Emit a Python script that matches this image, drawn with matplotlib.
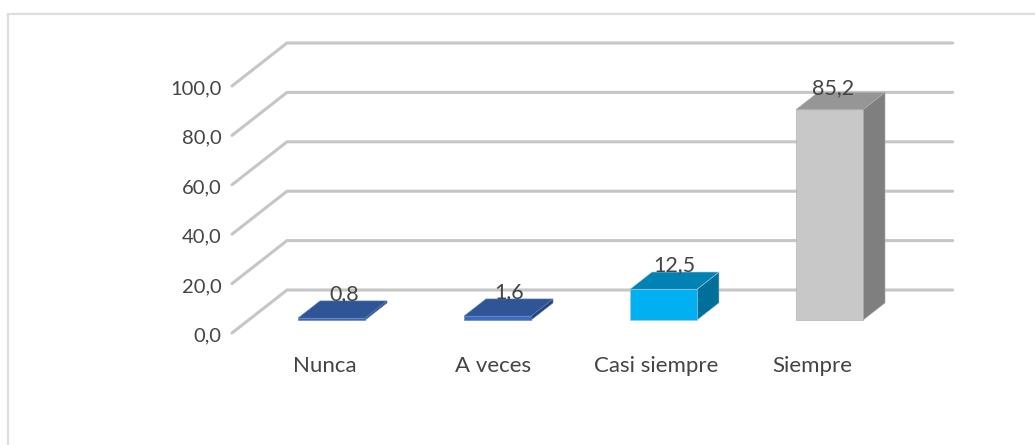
import matplotlib
matplotlib.use('Agg')
import matplotlib.pyplot as plt
from matplotlib.patches import Polygon

# Fake 3D column chart, oblique projection by hand.

categories = ['Nunca', 'A veces', 'Casi siempre', 'Siempre']
values = [0.8, 1.6, 12.5, 85.2]
value_labels = ['0,8', '1,6', '12,5', '85,2']
ticks = [0, 20, 40, 60, 80, 100]
tick_labels = ['0,0', '20,0', '40,0', '60,0', '80,0', '100,0']

front_colors = ['#3A67B0', '#3A6BBD', '#00B0F0', '#C8C8C8']
top_colors = ['#2F5597', '#2F5597', '#0083B4', '#969696']
side_colors = ['#24437A', '#24437A', '#00709A', '#7F7F7F']
edge_colors = ['#5B7FB8', '#5B7FB8', '#A8C8D8', '#A8A8A8']

# label nudges in points, the original labels are not centred on their columns
category_dx = [7.2, 8.7, 6.5, -0.5]
value_dx = [-6.6, -7.3, -8, -13]
value_dy = [5, 5, 5, 3]

GRID = '#C6C6C6'
TEXT = '#444444'
PX_PER_CAT = 166.0
PX_PER_UNIT = 2.47
DEPTH_X = 55 / PX_PER_CAT
DEPTH_Y = 43 / PX_PER_UNIT
BAR_WIDTH = 67 / PX_PER_CAT
D_FRONT = 0.3
D_BACK = 0.7

plt.rcParams['font.family'] = ['Lato', 'DejaVu Sans']

fig = plt.figure(figsize=(10.35, 4.45), dpi=100)
ax = fig.add_axes([0, 0, 1, 1])
# category 0 sits at 315 px on the floor's front edge, value 0 at 333 px from top
ax.set_xlim(-315 / PX_PER_CAT, (1035 - 315) / PX_PER_CAT)
ax.set_ylim(-(445 - 333) / PX_PER_UNIT, 333 / PX_PER_UNIT)
ax.axis('off')


def project(c, v, d):
    return (c + d * DEPTH_X, v + d * DEPTH_Y)


# outer frame, only top and left are inside the picture
frame_x = [8 / 1035, 8 / 1035, 1]
frame_y = [0, 1 - 14 / 445, 1 - 14 / 445]
ax.plot(frame_x, frame_y, transform=ax.transAxes, color='#DEDEDE', lw=1.6,
        solid_joinstyle='miter')

# gridlines: wall then floor side
for t, label in zip(ticks, tick_labels):
    p0 = project(-0.5, t, 0)
    p1 = project(-0.5, t, 1)
    p2 = project(3.51, t, 1)
    ax.plot([p0[0], p1[0], p2[0]], [p0[1], p1[1], p2[1]], color=GRID, lw=2.2,
            solid_capstyle='round', solid_joinstyle='miter', zorder=1)
    ax.annotate(label, (p0[0], t), xytext=(-7.7, -2), textcoords='offset points',
                ha='right', va='center', fontsize=14.5, color=TEXT)

# bars
for i, v in enumerate(values):
    x0 = i - BAR_WIDTH / 2
    x1 = i + BAR_WIDTH / 2
    front = [project(x0, 0, D_FRONT), project(x1, 0, D_FRONT),
             project(x1, v, D_FRONT), project(x0, v, D_FRONT)]
    side = [project(x1, 0, D_FRONT), project(x1, 0, D_BACK),
            project(x1, v, D_BACK), project(x1, v, D_FRONT)]
    top = [project(x0, v, D_FRONT), project(x1, v, D_FRONT),
           project(x1, v, D_BACK), project(x0, v, D_BACK)]
    ax.add_patch(Polygon(side, fc=side_colors[i], ec=edge_colors[i], lw=0.4, zorder=3))
    ax.add_patch(Polygon(top, fc=top_colors[i], ec=edge_colors[i], lw=0.4, zorder=3))
    ax.add_patch(Polygon(front, fc=front_colors[i], ec=edge_colors[i], lw=0.4, zorder=3))
    lx, ly = project(i, v, D_BACK)
    ax.annotate(value_labels[i], (lx, ly), xytext=(value_dx[i], value_dy[i]),
                textcoords='offset points', ha='center', va='center',
                fontsize=15.5, color=TEXT, zorder=4)

# category labels
for i, name in enumerate(categories):
    x, _ = project(i, 0, 0)
    ax.annotate(name, (x, 0), xytext=(category_dx[i], -23.5), textcoords='offset points',
                ha='center', va='center', fontsize=16, color=TEXT)

fig.savefig('out.png', dpi=100, facecolor='white')
